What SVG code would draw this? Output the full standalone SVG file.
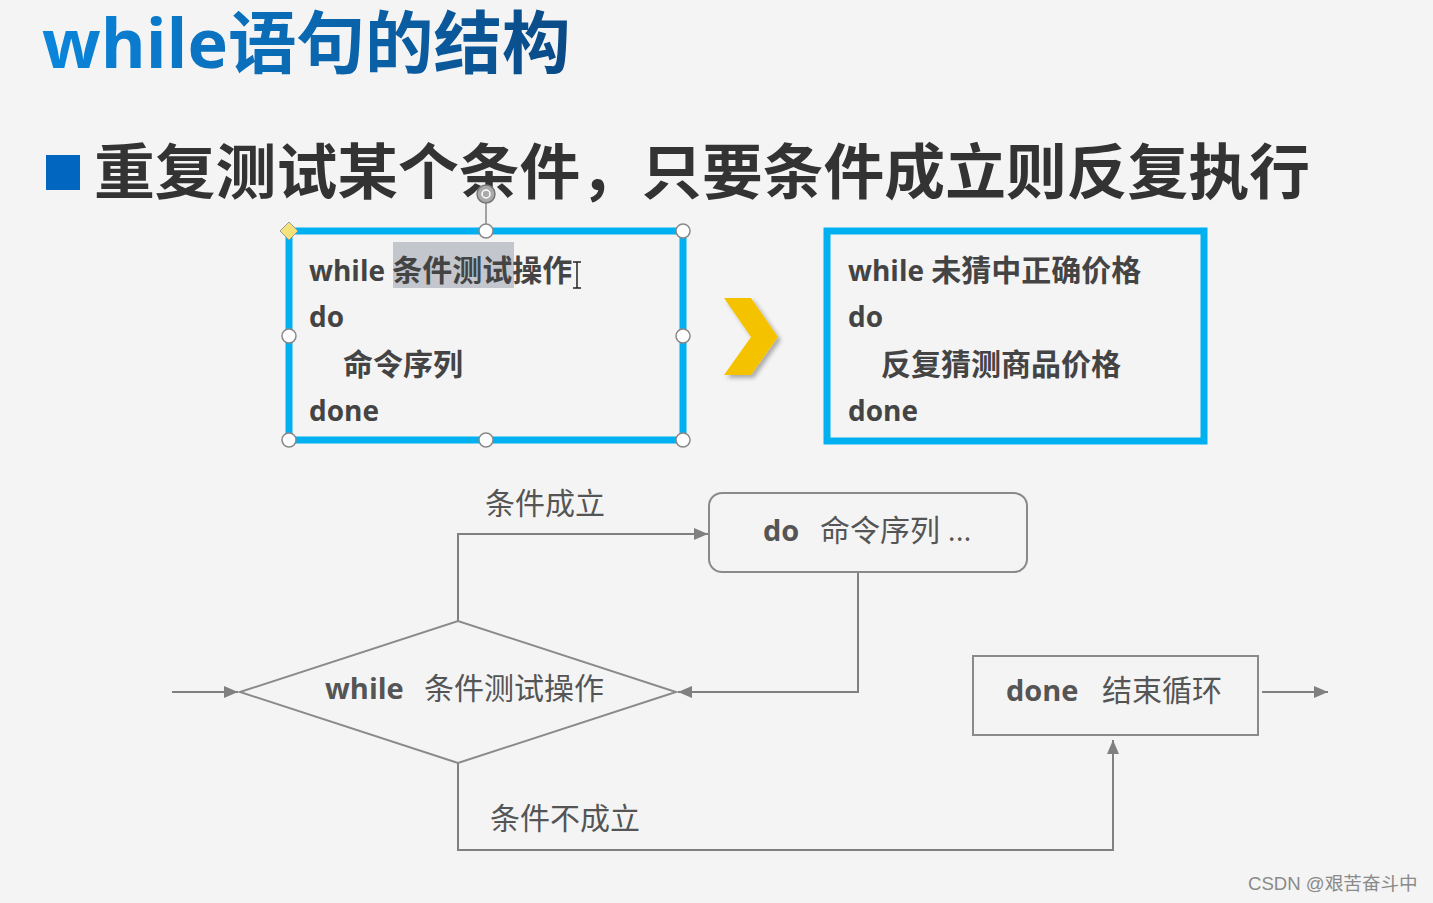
<svg xmlns="http://www.w3.org/2000/svg" width="1433" height="903" viewBox="0 0 1433 903">
<defs>
<linearGradient id="tg" x1="0" y1="0" x2="1" y2="0">
<stop offset="0" stop-color="#0a86dc"/>
<stop offset="1" stop-color="#0a4a86"/>
</linearGradient>
<marker id="ah" viewBox="0 0 14 12" refX="14" refY="6" markerWidth="14" markerHeight="12" markerUnits="userSpaceOnUse" orient="auto">
<path d="M0,0 L14,6 L0,12 Z" fill="#808080"/>
</marker>
<filter id="sh" x="-30%" y="-30%" width="160%" height="160%">
<feDropShadow dx="3" dy="3" stdDeviation="2" flood-color="#000" flood-opacity="0.3"/>
</filter>
</defs>
<style>
.cjk{font-family:"Open Sans","Noto Sans CJK SC",sans-serif}
.code{font-family:"Open Sans","Noto Sans CJK SC",sans-serif;font-size:28px;font-weight:bold;fill:#444}
.zh{font-size:30px}
.fl{font-family:"Open Sans","Noto Sans CJK SC",sans-serif;font-size:30px;fill:#555}
.b{font-weight:bold;font-size:29px}
.ln{fill:none;stroke:#808080;stroke-width:2}
.nd{fill:none;stroke:#8a8a8a;stroke-width:2}
.hd{fill:#fff;stroke:#888;stroke-width:1.5}
.sel{fill:none;stroke:#00b0f0;stroke-width:7}
</style>
<rect width="1433" height="903" fill="#f4f4f4"/>

<g id="title">
<text x="42" y="68" class="cjk" font-size="68.5" font-weight="bold" fill="url(#tg)">while语句的结构</text>
</g>

<g id="subtitle">
<rect x="46" y="155" width="34" height="35" fill="#0066c0"/>
<text x="94" y="194" class="cjk" font-size="60.8" font-weight="bold" fill="#333">重复测试某个条件，只要条件成立则反复执行</text>
</g>

<g id="syntax-box">
<rect x="289" y="231" width="394" height="209" class="sel"/>
<rect x="393" y="242" width="121" height="46" fill="#c3c6cc"/>
<text x="309" y="281" class="code">while <tspan class="zh">条件测试操作</tspan></text>
<text x="309" y="327" class="code">do</text>
<text x="343" y="375" class="code zh">命令序列</text>
<text x="309" y="421" class="code">done</text>
<path d="M573,262 h8 M577,262 v26 M573,288 h8" stroke="#222" stroke-width="1.5" fill="none"/>
<line x1="486" y1="200" x2="486" y2="231" stroke="#888" stroke-width="1.5"/>
<circle cx="486" cy="194" r="9" fill="#aaa" stroke="#777" stroke-width="1.5"/>
<circle cx="486" cy="194" r="4" fill="none" stroke="#fff" stroke-width="1.5"/>
<path d="M289,222 L298,231 L289,240 L280,231 Z" fill="#f5e27a" stroke="#999" stroke-width="1"/>
<circle cx="486" cy="231" r="7" class="hd"/>
<circle cx="683" cy="231" r="7" class="hd"/>
<circle cx="289" cy="336" r="7" class="hd"/>
<circle cx="683" cy="336" r="7" class="hd"/>
<circle cx="289" cy="440" r="7" class="hd"/>
<circle cx="486" cy="440" r="7" class="hd"/>
<circle cx="683" cy="440" r="7" class="hd"/>
</g>

<g id="chevron">
<path d="M724,298 L751,298 L778,337 L751,375 L724,375 L751,337 Z" fill="#f5c200" filter="url(#sh)"/>
</g>

<g id="example-box">
<rect x="827" y="231" width="377" height="210" class="sel" stroke-width="8"/>
<text x="848" y="281" class="code">while <tspan class="zh">未猜中正确价格</tspan></text>
<text x="848" y="327" class="code">do</text>
<text x="881" y="375" class="code zh">反复猜测商品价格</text>
<text x="848" y="421" class="code">done</text>
</g>

<g id="connectors">
<line x1="172" y1="692" x2="238" y2="692" class="ln" marker-end="url(#ah)"/>
<polyline points="458,621 458,534 708,534" class="ln" marker-end="url(#ah)"/>
<polyline points="858,573 858,692 678,692" class="ln" marker-end="url(#ah)"/>
<polyline points="458,763 458,850 1113,850 1113,740" class="ln" marker-end="url(#ah)"/>
<line x1="1262" y1="692" x2="1328" y2="692" class="ln" marker-end="url(#ah)"/>
<text x="485" y="514" class="fl">条件成立</text>
<text x="490" y="829" class="fl">条件不成立</text>
</g>

<g id="while-node">
<polygon points="240,692 458,621 676,692 458,763" class="nd"/>
<text x="325" y="699" class="fl"><tspan class="b">while</tspan><tspan x="424">条件测试操作</tspan></text>
</g>

<g id="do-node">
<rect x="709" y="493" width="318" height="79" rx="13" class="nd"/>
<text x="763" y="541" class="fl"><tspan class="b">do</tspan><tspan x="820">命令序列 ...</tspan></text>
</g>

<g id="done-node">
<rect x="973" y="656" width="285" height="79" class="nd"/>
<text x="1006" y="701" class="fl"><tspan class="b">done</tspan><tspan x="1102">结束循环</tspan></text>
</g>

<g id="watermark">
<text x="1248" y="890" font-family="'Liberation Sans','Noto Sans CJK SC',sans-serif" font-size="18.6" fill="#8a8a8a">CSDN @艰苦奋斗中</text>
</g>
</svg>
